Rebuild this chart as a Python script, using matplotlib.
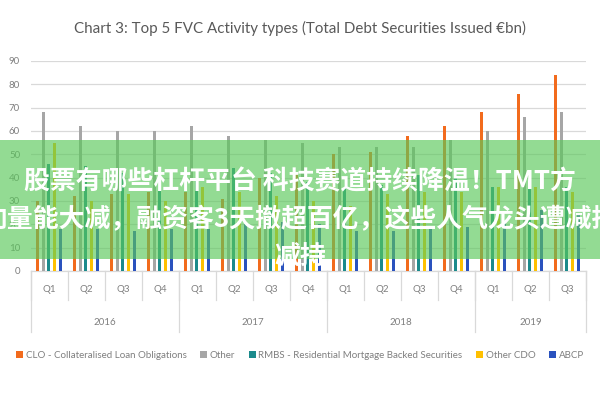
import numpy as np
import matplotlib
matplotlib.use("Agg")
import matplotlib.pyplot as plt
from matplotlib.patches import Rectangle
from matplotlib.transforms import blended_transform_factory

# Données
quarters = ["Q1", "Q2", "Q3", "Q4"] * 3 + ["Q1", "Q2", "Q3"]
years = ["2016", "2017", "2018", "2019"]
year_len = [4, 4, 4, 3]

series_names = ["CLO - Collateralised Loan Obligations", "Other",
                "RMBS - Residential Mortgage Backed Securities", "Other CDO", "ABCP"]
clo = [30, 32, 33, 34, 34, 31, 40, 42, 50, 51, 58, 62, 68, 76, 84]
other = [68, 62, 60, 60, 62, 58, 56, 55, 53, 53, 53, 56, 60, 66, 68]
rmbs = [46, 45, 42, 44, 40, 44, 42, 38, 36, 37, 41, 40, 36, 36, 36]
other_cdo = [55, 30, 33, 30, 36, 34, 32, 30, 28, 33, 34, 34, 36, 36, 34]
abcp = [18, 18, 17, 18, 18, 20, 21, 20, 17, 17, 18, 19, 21, 26, 25]
colors = ["#F26B1D", "#A6A6A6", "#1B8A8C", "#FFC000", "#2A52BE"]

title = "Chart 3: Top 5 FVC Activity types (Total Debt Securities Issued €bn)"
banner_l1 = "股票有哪些杠杆平台 科技赛道持续降温！TMT方"
banner_l2 = "向量能大减，融资客3天撤超百亿，这些人气龙头遭减持"
banner_l3 = "减持"

lat = ["Lato", "DejaVu Sans"]
fig = plt.figure(figsize=(6, 4), dpi=100)
ax = fig.add_axes([0.052, 0.3225, 0.925, 0.525])

x = np.arange(len(quarters))
step = 0.157
bw = 0.08
for k, (vals, name) in enumerate(zip([clo, other, rmbs, other_cdo, abcp], series_names)):
    ax.bar(x + (k - 2) * step - 0.02, vals, width=bw, color=colors[k], label=name, zorder=3)

ax.set_xlim(-0.5, len(quarters) - 0.5)
ax.set_ylim(0, 90)
ax.set_yticks(np.arange(0, 91, 10))
ax.yaxis.grid(True, color="#D9D9D9", lw=0.9)
ax.set_axisbelow(True)
for s in ax.spines.values():
    s.set_visible(False)
ax.tick_params(axis="y", length=0, labelsize=7, labelcolor="#7F7F7F", pad=8)
for lb in ax.get_yticklabels():
    lb.set_family(lat)
ax.set_xticks([])

# axe de catégories à deux niveaux
tr = blended_transform_factory(ax.transData, ax.transAxes)
ax.plot([-0.5, len(quarters) - 0.5], [0, 0], color="#D9D9D9", lw=0.9, transform=tr, clip_on=False)
for i in range(len(quarters) + 1):
    ax.plot([i - 0.5, i - 0.5], [0, -0.14], color="#D9D9D9", lw=0.9, transform=tr, clip_on=False)
for i, q in enumerate(quarters):
    ax.text(i, -0.09, q, transform=tr, ha="center", va="center", fontsize=7,
            color="#7F7F7F", family=lat)
start = 0
for y, n in zip(years, year_len):
    ax.plot([start - 0.5, start - 0.5], [0, -0.29], color="#D9D9D9", lw=0.9, transform=tr, clip_on=False)
    ax.text(start + (n - 1) / 2, -0.243, y, transform=tr, ha="center", va="center",
            fontsize=7, color="#7F7F7F", family=lat)
    start += n
ax.plot([start - 0.5, start - 0.5], [0, -0.29], color="#D9D9D9", lw=0.9, transform=tr, clip_on=False)

fig.text(0.5, 0.93, title, ha="center", va="center", fontsize=10.9, color="#595959", family=lat)

fig.legend(loc="center", bbox_to_anchor=(0.5, 0.112), ncol=5, frameon=False,
           prop={"family": "Lato", "size": 7}, handlelength=0.7,
           handleheight=0.7, columnspacing=1.4, handletextpad=0.3, labelcolor="#7F7F7F")

# bandeau vert superposé
fig.patches.append(Rectangle((0, 0.3525), 1, 0.2975, transform=fig.transFigure,
                             facecolor="#5AC85A", alpha=0.65, edgecolor="none", zorder=10))
cjk = ["Noto Sans CJK SC", "DejaVu Sans"]
for txt, ypx in [(banner_l1, 182), (banner_l2, 220), (banner_l3, 257)]:
    fig.text(0.5, 1 - ypx / 400, txt, ha="center", va="center", fontsize=18.6, color="white",
             weight="bold", family=cjk, zorder=11)

fig.savefig("out.png", dpi=100, facecolor="white")
plt.close()
